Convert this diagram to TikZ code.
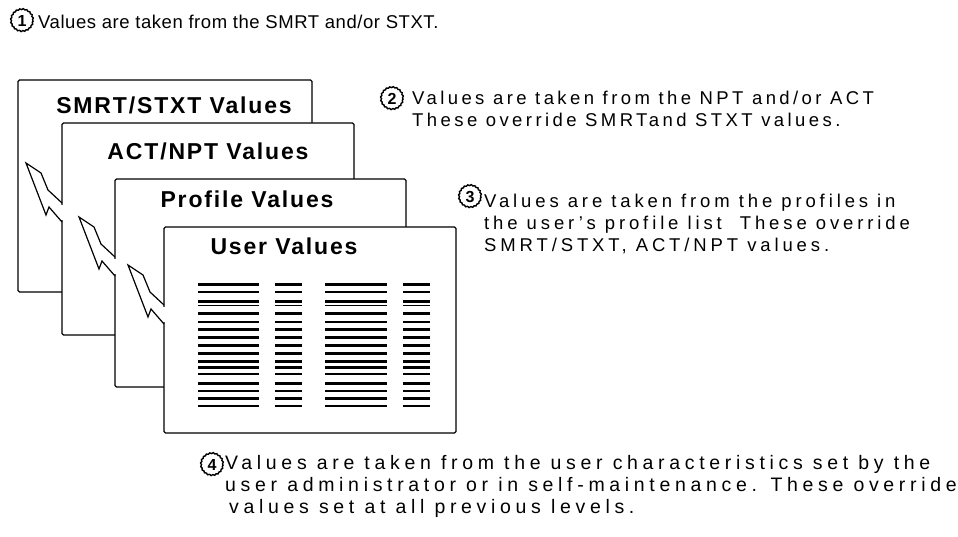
\documentclass[tikz,border=0pt]{standalone}
\usepackage{fontspec}
\setmainfont{Liberation Sans}
\newfontfamily\cardfont[LetterSpace=8]{Liberation Sans}
\usetikzlibrary{decorations.pathmorphing}
\usetikzlibrary{positioning}

\begin{document}
\begin{tikzpicture}[
    x=1pt, y=-1pt,
    card/.style={draw, fill=white, line width=1.4pt, rounded corners=1.5pt},
    card title/.style={font=\cardfont\bfseries\fontsize{23}{26}\selectfont, inner sep=0pt},
    note/.style={font={\fontsize{18.5}{22}\selectfont\addfontfeatures{LetterSpace=#1}},
        align=left, anchor=west, inner sep=0pt},
    big note/.style={font={\fontsize{19.5}{22}\selectfont\addfontfeatures{LetterSpace=#1}},
        align=left, anchor=west, inner sep=0pt},
    badge/.style={circle, draw, line width=1.4pt, minimum size=22pt, inner sep=0pt,
        decorate, decoration={snake, segment length=3.5pt, amplitude=0.5pt},
        font=\bfseries\fontsize{16}{16}\selectfont},
    bolt/.style={line width=1.2pt, line join=miter},
    thick bar/.style={line width=3pt},
    thin bar/.style={line width=1.4pt}
    ]

\useasboundingbox (0,0) rectangle (958,537);

% stacked cards, back to front
\draw[card] (18,80) rectangle (312,292);
\draw[card] (62,123) rectangle (354,335);
\draw[card] (115,179) rectangle (406,387);
\draw[card] (164,227) rectangle (456,433);

\node[card title] (smrt) at (174,105) {SMRT/STXT Values};
\node[card title] (act) at (208,151) {ACT/NPT Values};
\node[card title] (profile) at (247,199) {Profile Values};
\node[card title] (user) at (284,246) {User Values};

% lines of settings on the user card
\foreach \y/\kind in {285/thick, 292/thin, 301/thick, 305.5/thin, 313/thick,
    322/thin, 329/thick, 337/thick, 345/thick, 353/thick, 361/thick, 367/thick,
    374/thin, 383/thick, 391/thin, 398/thick, 406/thin}
  \foreach \xa/\xb in {198/259, 275/302, 325/387, 403/430}
    \draw[\kind\space bar] (\xa,\y) -- (\xb,\y);

% lightning bolts: each one breaks out of a card edge
\newcommand{\bolt}[1]{
  \draw[white, line width=3pt] (#1) ++(0,2) -- ++(0,15);
  \draw[bolt] (#1) -- ++(-14,-13) -- ++(-7,-17) -- ++(-15,-10)
      -- ++(20,52) -- ++(3,-8) -- ++(13,15);
}
\coordinate (b1) at (62,203);
\coordinate (b2) at (115,257);
\coordinate (b3) at (164,305);
\bolt{b1}
\bolt{b2}
\bolt{b3}

% numbered notes
\node[badge] (n1) at (22,21) {1};
\node[note=3] (msg1) at (38,22) {Values are taken from the SMRT and/or STXT.};

\node[badge] (n2) at (392,99) {2};
\node[note=18.5] (msg2) at (412,109) {Values are taken from the NPT and/or ACT\\
    These override SMRTand STXT values.};

\node[badge] (n3) at (470,197) {3};
\node[note=21] (msg3) at (484,223.5) {Values are taken from the profiles in\\
    the user's profile list\ \ These override\\
    SMRT/STXT, ACT/NPT values.};

\node[badge] (n4) at (212,465) {4};
\node[big note=24] (msg4) at (225,486.5) {Values are taken from the user characteristics set by the\\
    user administrator or in self-maintenance. These override\\
    \hspace{4pt}values set at all previous levels.};

\end{tikzpicture}
\end{document}
